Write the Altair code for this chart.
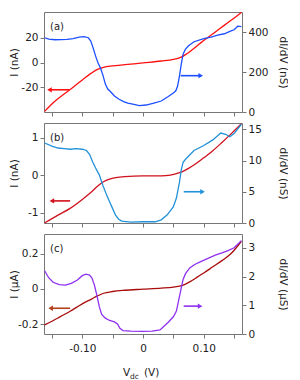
import altair as alt
import pandas as pd

# ---------------- data ----------------
# panel (a)
va_i = [-0.162, -0.15, -0.13, -0.115, -0.10, -0.085, -0.075, -0.065, -0.05, -0.03, 0.0,
        0.03, 0.05, 0.062, 0.07, 0.08, 0.095, 0.11, 0.125, 0.14, 0.155, 0.162]
ia = [-39.5, -33.5, -25.5, -20, -14, -8.5, -5.5, -3.8, -2.7, -1.7, -0.2,
      1.3, 2.6, 4.3, 6.5, 10, 16, 21.5, 27, 32.5, 38, 40.8]
va_g = [-0.162, -0.155, -0.145, -0.135, -0.125, -0.115, -0.105, -0.097, -0.09, -0.086,
        -0.082, -0.078, -0.074, -0.07, -0.066, -0.062, -0.058, -0.053, -0.047, -0.04,
        -0.032, -0.025, -0.015, -0.006, 0.005, 0.018, 0.03, 0.041, 0.05, 0.054, 0.057,
        0.06, 0.063, 0.066, 0.07, 0.075, 0.084, 0.1, 0.112, 0.123, 0.134, 0.144, 0.15,
        0.156, 0.162]
ga = [372, 365, 362, 363, 364, 368, 375, 378, 372, 355,
      320, 280, 245, 220, 185, 140, 115, 100, 80, 65,
      52, 45, 38, 32, 35, 45, 55, 76, 95, 106, 130,
      180, 240, 290, 315, 332, 352, 368, 375, 385, 392, 405, 412,
      430, 428]

# panel (b)
vb_i = [-0.162, -0.14, -0.12, -0.10, -0.085, -0.075, -0.065, -0.055, -0.045, -0.03, 0.0,
        0.03, 0.045, 0.055, 0.065, 0.075, 0.085, 0.10, 0.115, 0.13, 0.145, 0.162]
ib = [-1.28, -1.07, -0.89, -0.65, -0.45, -0.30, -0.18, -0.11, -0.07, -0.04, -0.02,
      -0.02, 0.0, 0.04, 0.09, 0.18, 0.28, 0.46, 0.65, 0.87, 1.10, 1.37]
vb_g = [-0.162, -0.15, -0.14, -0.13, -0.12, -0.11, -0.10, -0.093, -0.088, -0.083, -0.078,
        -0.072, -0.066, -0.06, -0.055, -0.05, -0.045, -0.04, -0.035, -0.02, 0.0, 0.02,
        0.03, 0.04, 0.05, 0.055, 0.06, 0.063, 0.066, 0.07, 0.076, 0.084, 0.1, 0.115,
        0.128, 0.136, 0.143, 0.15, 0.162]
gb = [12.8, 12.3, 12.0, 11.9, 11.8, 11.9, 11.8, 11.6, 11.0, 9.8, 8.8,
      7.7, 6.0, 4.5, 3.4, 2.3, 1.2, 0.6, 0.3, 0.15, 0.2, 0.2,
      0.5, 1.3, 2.6, 4.0, 6.5, 8.5, 9.7, 10.2, 10.8, 11.6, 12.4, 13.3,
      14.4, 14.2, 13.8, 14.3, 15.8]

# panel (c)
vc_i = [-0.162, -0.14, -0.12, -0.10, -0.085, -0.075, -0.065, -0.05, -0.03, 0.0,
        0.03, 0.05, 0.062, 0.07, 0.08, 0.09, 0.10, 0.115, 0.13, 0.145, 0.162]
ic = [-0.205, -0.165, -0.127, -0.085, -0.058, -0.04, -0.025, -0.015, -0.008, -0.002,
      0.004, 0.01, 0.017, 0.027, 0.046, 0.068, 0.09, 0.125, 0.16, 0.2, 0.27]
vc_g = [-0.162, -0.155, -0.148, -0.138, -0.128, -0.118, -0.108, -0.1, -0.094, -0.088,
        -0.084, -0.08, -0.076, -0.072, -0.068, -0.062, -0.055, -0.047, -0.042, -0.038,
        -0.033, -0.02, 0.0, 0.015, 0.028, 0.035, 0.042, 0.05, 0.055, 0.058, 0.062,
        0.066, 0.07, 0.077, 0.085, 0.095, 0.106, 0.12, 0.13, 0.14, 0.15, 0.162]
gc = [2.2, 1.95, 1.8, 1.72, 1.7, 1.76, 1.88, 2.03, 2.08, 2.05,
      1.95, 1.7, 1.35, 0.95, 0.68, 0.55, 0.47, 0.42, 0.35, 0.2,
      0.12, 0.1, 0.09, 0.1, 0.14, 0.28, 0.42, 0.6, 0.8, 1.1, 1.5,
      1.9, 2.1, 2.3, 2.42, 2.52, 2.62, 2.75, 2.82, 2.9, 3.0, 3.25]

# arrows: [start V, end V, level]
arrow_a_left = [-0.121, -0.154, -22]
arrow_a_right = [0.062, 0.095, 182]
arrow_b_left = [-0.12, -0.15, -0.69]
arrow_b_right = [0.067, 0.098, 5]
arrow_c_left = [-0.12, -0.152, -0.11]
arrow_c_right = [0.067, 0.094, 0.97]

x_ticks = [-0.15, -0.1, -0.05, 0, 0.05, 0.1, 0.15]

# ---------------- chart ----------------
FONT = "DejaVu Sans"
W, H = 198, 100
XDOM = [-0.163, 0.163]
FIX = "replace(datum.label, '\u2212', '-')"


def panel(v_i, i_vals, v_g, g_vals, idom, iticks, ititle, gdom, gticks, gtitle,
          c_i, c_g, c_arrow_l, arr_l, arr_r, label, bottom):
    if bottom:
        xaxis = alt.Axis(values=x_ticks, title=None, grid=False, tickSize=4,
                         labelPadding=5,
                         labelExpr="datum.value == 0 ? '0' : (abs(datum.value) > 0.09 && abs(datum.value) < 0.11 ? (datum.value < 0 ? '-0.10' : '0.10') : '')")
    else:
        xaxis = alt.Axis(values=x_ticks, title=None, grid=False, tickSize=4, labels=False)
    xs = alt.Scale(domain=XDOM, nice=False, zero=False)

    yl = alt.Y("I:Q", scale=alt.Scale(domain=idom, nice=False, zero=False),
               axis=alt.Axis(values=iticks, title=ititle, grid=False, tickSize=4,
                             labelPadding=2, titleX=-30, titleY=H / 2,
                             titleBaseline="middle", titleAngle=270,
                             labelExpr="datum.value == 0 ? '0' : " + FIX))
    yr = alt.Y("G:Q", scale=alt.Scale(domain=gdom, nice=False, zero=False),
               axis=alt.Axis(values=gticks, title=gtitle, orient="right", grid=False,
                             tickSize=4, labelPadding=2, titleX=40, titleY=H / 2,
                             titleBaseline="middle", titleAngle=90,
                             labelExpr="datum.value == 0 ? '0' : " + FIX))

    di = pd.DataFrame({"V": v_i, "I": i_vals})
    dg = pd.DataFrame({"V": v_g, "G": g_vals})
    dal = pd.DataFrame({"V": [arr_l[0]], "V2": [arr_l[1]], "I": [arr_l[2]]})
    dalh = pd.DataFrame({"V": [arr_l[1]], "I": [arr_l[2]]})
    dar = pd.DataFrame({"V": [arr_r[0]], "V2": [arr_r[1]], "G": [arr_r[2]]})
    darh = pd.DataFrame({"V": [arr_r[1]], "G": [arr_r[2]]})

    x = alt.X("V:Q", scale=xs, axis=xaxis)
    line_i = alt.Chart(di).mark_line(color=c_i, strokeWidth=1.3,
                                     interpolate="monotone").encode(x=x, y=yl)
    rule_l = alt.Chart(dal).mark_rule(color=c_arrow_l, strokeWidth=1.6).encode(
        x=x, x2="V2:Q", y=yl)
    head_l = alt.Chart(dalh).mark_point(shape="triangle-left", filled=True, size=28,
                                        color=c_arrow_l, opacity=1).encode(x=x, y=yl)
    lab = alt.Chart(pd.DataFrame({"t": [label]})).mark_text(
        align="left", baseline="alphabetic", font=FONT, fontSize=10, color="#222"
    ).encode(x=alt.value(6), y=alt.value(18), text="t:N")
    left_layers = [line_i, rule_l, head_l, lab]
    if bottom:
        tV = alt.Chart(pd.DataFrame({"t": ["V"]})).mark_text(
            align="left", baseline="alphabetic", font=FONT, fontSize=10.5, color="#222"
        ).encode(x=alt.value(79), y=alt.value(142), text="t:N")
        tdc = alt.Chart(pd.DataFrame({"t": ["dc"]})).mark_text(
            align="left", baseline="alphabetic", font=FONT, fontSize=7.5, color="#222"
        ).encode(x=alt.value(86), y=alt.value(145), text="t:N")
        tunit = alt.Chart(pd.DataFrame({"t": ["(V)"]})).mark_text(
            align="left", baseline="alphabetic", font=FONT, fontSize=10.5, color="#222"
        ).encode(x=alt.value(100), y=alt.value(142), text="t:N")
        left_layers += [tV, tdc, tunit]
    left = alt.layer(*left_layers)

    line_g = alt.Chart(dg).mark_line(color=c_g, strokeWidth=1.3).encode(x=x, y=yr)
    rule_r = alt.Chart(dar).mark_rule(color=c_g, strokeWidth=1.6).encode(
        x=x, x2="V2:Q", y=yr)
    head_r = alt.Chart(darh).mark_point(shape="triangle-right", filled=True, size=28,
                                        color=c_g, opacity=1).encode(x=x, y=yr)
    right = alt.layer(line_g, rule_r, head_r)

    return alt.layer(left, right).resolve_scale(y="independent").properties(
        width=W, height=H)


pa = panel(va_i, ia, va_g, ga, [-40, 41], [-20, 0, 20], "I (nA)",
           [0, 501], [0, 200, 400], "dI/dV (nS)",
           "#ff1010", "#1c4fff", "#ff1010", arrow_a_left, arrow_a_right, "(a)", False)
pb = panel(vb_i, ib, vb_g, gb, [-1.28, 1.39], [-1, 0, 1], "I (nA)",
           [0, 16], [0, 5, 10, 15], "dI/dV (nS)",
           "#d0101c", "#2292d8", "#d0101c", arrow_b_left, arrow_b_right, "(b)", False)
pc = panel(vc_i, ic, vc_g, gc, [-0.256, 0.311], [-0.2, 0, 0.2], "I (\u00b5A)",
           [0, 3.48], [0, 1, 2, 3], "dI/dV (\u00b5S)",
           "#a80c0c", "#9030f0", "#b4401c", arrow_c_left, arrow_c_right, "(c)", True)

chart = alt.vconcat(pa, pb, pc, spacing=11, bounds="flush").properties(
    padding={"left": 0, "top": 1, "right": 0, "bottom": 0}
).configure_view(stroke="#777", strokeWidth=1).configure_axis(
    labelFont=FONT, titleFont=FONT, labelFontSize=10.5, titleFontSize=10.5,
    titleFontWeight="normal", labelColor="#222", titleColor="#222",
    domainColor="#777", tickColor="#777", domain=False
)

chart.save("out.html", embed_options={"renderer": "svg", "actions": False})
